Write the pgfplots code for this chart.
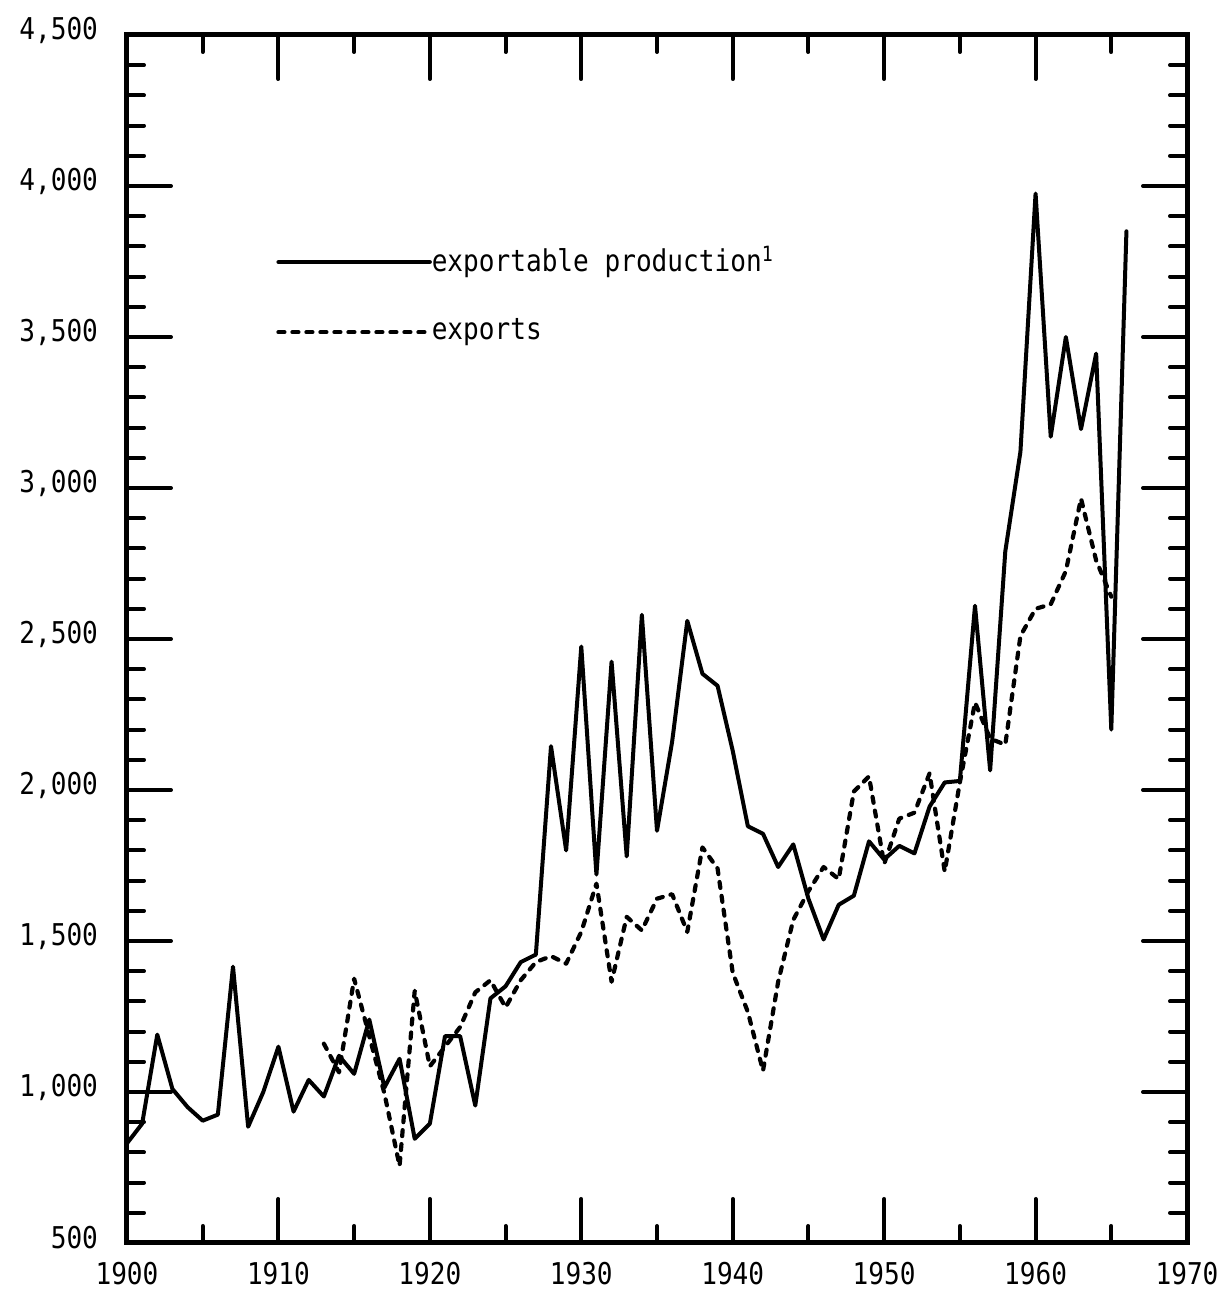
\documentclass[border=0pt]{standalone}
\usepackage{fontspec}
\setmainfont[FakeStretch=0.87]{DejaVu Sans Mono}
\usepackage{pgfplots}
\pgfplotsset{compat=1.18}
\begin{document}
\begin{tikzpicture}
\useasboundingbox (-63.5pt,-28.5pt) rectangle (545pt,621.5pt);
\begin{axis}[
  at={(0,0)}, anchor=south west,
  scale only axis, width=530pt, height=604pt,
  xmin=1900, xmax=1970, ymin=500, ymax=4500,
  xtick={1900,1910,...,1970},
  xticklabels={1900,1910,1920,1930,1940,1950,1960,1970},
  ytick={500,1000,...,4500},
  yticklabels={500,{1,000},{1,500},{2,000},{2,500},{3,000},{3,500},{4,000},{4,500}},
  minor x tick num=1, minor y tick num=4,
  tick align=inside,
  major tick length=22pt, minor tick length=8.5pt,
  tick style={black, line width=2pt, line cap=round},
  axis line style={line width=2.5pt},
  ticklabel style={font=\fontsize{15}{17}\selectfont},
  yticklabel style={xshift=-11pt, yshift=2.5pt},
  xticklabel style={yshift=-6pt},
  clip=false,
]
\addplot[black, line width=2pt, line join=round, line cap=round] coordinates {
(1900,830) (1901,895) (1902,1190) (1903,1010) (1904,950) (1905,905) (1906,925)
(1907,1415) (1908,885) (1909,1000) (1910,1150) (1911,935) (1912,1040) (1913,985)
(1914,1120) (1915,1060) (1916,1240) (1917,1015) (1918,1110) (1919,845) (1920,895)
(1921,1185) (1922,1185) (1923,955) (1924,1310) (1925,1350) (1926,1430) (1927,1455)
(1928,2145) (1929,1800) (1930,2475) (1931,1720) (1932,2425) (1933,1780) (1934,2580)
(1935,1865) (1936,2160) (1937,2560) (1938,2385) (1939,2345) (1940,2130) (1941,1880)
(1942,1855) (1943,1745) (1944,1820) (1945,1640) (1946,1505) (1947,1620) (1948,1650)
(1949,1830) (1950,1770) (1951,1815) (1952,1790) (1953,1945) (1954,2025) (1955,2030)
(1956,2610) (1957,2065) (1958,2790) (1959,3120) (1960,3975) (1961,3170) (1962,3500)
(1963,3195) (1964,3445) (1965,2200) (1966,3850)
};
\addplot[black, line width=2.1pt, line join=round, line cap=round, dash pattern=on 3pt off 4pt] coordinates {
(1913,1160) (1914,1065) (1915,1375) (1916,1185) (1917,995) (1918,755) (1919,1335)
(1920,1085) (1921,1150) (1922,1215) (1923,1330) (1924,1370) (1925,1280) (1926,1370)
(1927,1430) (1928,1450) (1929,1425) (1930,1530) (1931,1690) (1932,1365) (1933,1580)
(1934,1535) (1935,1640) (1936,1655) (1937,1530) (1938,1810) (1939,1740) (1940,1395)
(1941,1265) (1942,1070) (1943,1365) (1944,1570) (1945,1665) (1946,1745) (1947,1705)
(1948,1995) (1949,2045) (1950,1755) (1951,1905) (1952,1925) (1953,2055) (1954,1730)
(1955,2025) (1956,2290) (1957,2170) (1958,2150) (1959,2510) (1960,2600) (1961,2615)
(1962,2725) (1963,2965) (1964,2760) (1965,2640)
};
\draw[black, line width=2pt, line cap=round] (axis cs:1910,3748) -- (axis cs:1920,3748);
\draw[black, line width=2.1pt, line cap=round, dash pattern=on 3pt off 4pt] (axis cs:1910,3516) -- (axis cs:1920,3516);
\node[anchor=west, inner sep=0pt, font=\fontsize{15}{17}\selectfont] at (axis cs:1920.1,3748) {exportable production\textsuperscript{1}};
\node[anchor=west, inner sep=0pt, font=\fontsize{15}{17}\selectfont] at (axis cs:1920.1,3516) {exports};
\end{axis}
\end{tikzpicture}
\end{document}
